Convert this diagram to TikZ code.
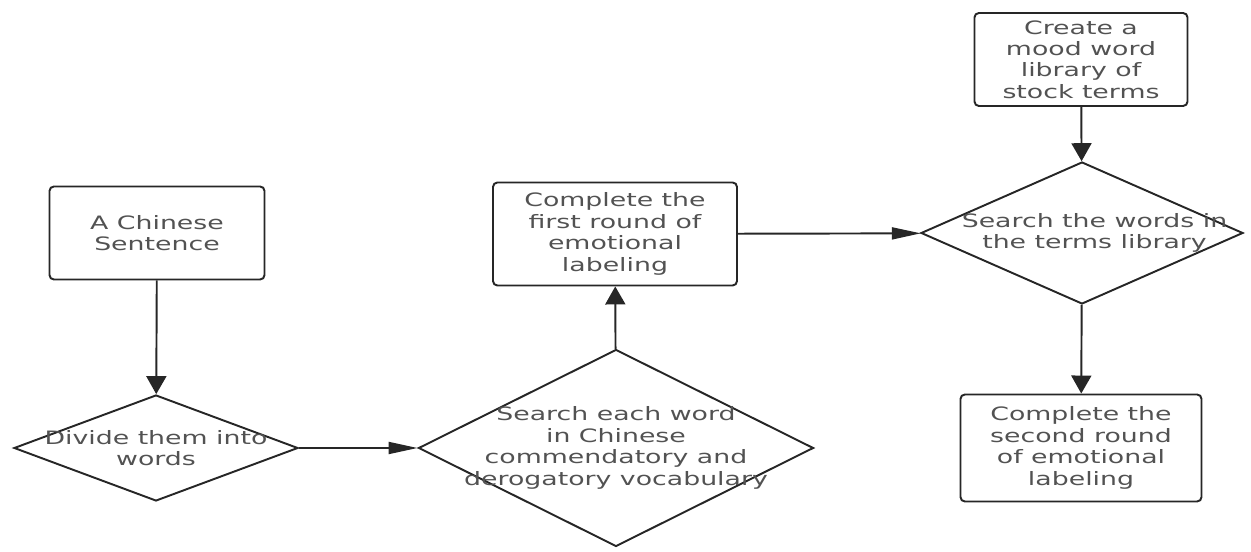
\documentclass[tikz,border=0pt]{standalone}
\usepackage{fontspec}
\setmainfont{DejaVu Sans}[FakeStretch=1.45]
\usetikzlibrary{shapes.geometric,arrows.meta}

\tikzset{
	flowtext/.style={align=center, text=black!68, font=\fontsize{10.5}{12.2}\selectfont},
	procbox/.style={flowtext, draw=black!85, line width=1.1pt, rounded corners=2.5pt, inner sep=0pt},
	choice/.style={diamond, draw=black!85, line width=1.1pt, inner sep=0pt},
	arrv/.style={draw=black!85, line width=1.1pt, -{Triangle[length=0.36cm, width=0.4cm]}},
	arrh/.style={draw=black!85, line width=1.1pt, -{Triangle[length=0.58cm, width=0.24cm]}}
}

\begin{document}
\begin{tikzpicture}
	\useasboundingbox (0,0) rectangle (25.02,-11.04);
	% Boxes
	\node [procbox, minimum width=4.3cm, minimum height=1.86cm] (sent) at (3.14,-4.66) {A Chinese\\Sentence};
	\node [procbox, minimum width=4.88cm, minimum height=2.06cm] (first) at (12.30,-4.68) {Complete the\\first round of\\emotional\\labeling};
	\node [procbox, minimum width=4.26cm, minimum height=1.86cm] (library) at (21.62,-1.19) {Create a\\mood word\\library of\\stock terms};
	\node [procbox, minimum width=4.82cm, minimum height=2.14cm] (second) at (21.62,-8.96) {Complete the\\second round\\of emotional\\labeling};
	% Diamonds
	\node [choice, minimum width=5.68cm, minimum height=2.12cm, label={[flowtext]center:Divide them into\\words}] (divide) at (3.12,-8.96) {};
	\node [choice, minimum width=7.9cm, minimum height=3.94cm, label={[flowtext]center:Search each word\\in Chinese\\commendatory and\\derogatory vocabulary}] (search) at (12.32,-8.96) {};
	\node [choice, minimum width=6.44cm, minimum height=2.84cm, label={[flowtext, xshift=0.25cm]center:Search the words in\\the terms library}] (terms) at (21.64,-4.66) {};
	% Arrows
	\draw [arrv] (sent) -- (divide);
	\draw [arrh] (divide) -- (search);
	\draw [arrv] (search) -- (first);
	\draw [arrh] (first) -- (terms);
	\draw [arrv] (library) -- (terms);
	\draw [arrv] (terms) -- (second);
\end{tikzpicture}
\end{document}
